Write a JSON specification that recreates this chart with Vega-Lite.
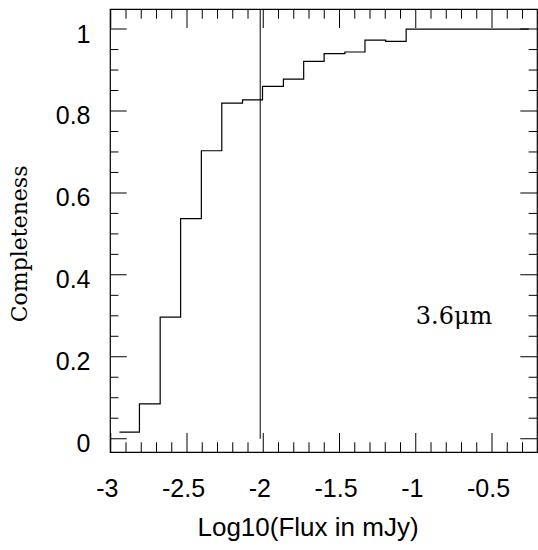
{
  "$schema": "https://vega.github.io/schema/vega-lite/v6.json",
  "width": 427,
  "height": 443,
  "autosize": "none",
  "padding": {"left": 110, "top": 9, "right": 1, "bottom": 98},
  "background": "white",
  "config": {
    "view": {"stroke": "black", "strokeWidth": 1.2},
    "axis": {"domain": false, "grid": false, "ticks": false, "labelColor": "black", "titleColor": "black", "labelFlush": false, "labelOverlap": false, "labelBound": false}
  },
  "datasets": {
    "hist": [
      {"logflux": -2.943, "completeness": 0.016},
      {"logflux": -2.812, "completeness": 0.085},
      {"logflux": -2.676, "completeness": 0.297},
      {"logflux": -2.542, "completeness": 0.537},
      {"logflux": -2.406, "completeness": 0.703},
      {"logflux": -2.272, "completeness": 0.819},
      {"logflux": -2.136, "completeness": 0.827},
      {"logflux": -2.005, "completeness": 0.86},
      {"logflux": -1.868, "completeness": 0.878},
      {"logflux": -1.735, "completeness": 0.921},
      {"logflux": -1.601, "completeness": 0.94},
      {"logflux": -1.465, "completeness": 0.944},
      {"logflux": -1.333, "completeness": 0.973},
      {"logflux": -1.197, "completeness": 0.97},
      {"logflux": -1.063, "completeness": 1.0},
      {"logflux": -0.929, "completeness": 1.0},
      {"logflux": -0.795, "completeness": 1.0},
      {"logflux": -0.661, "completeness": 1.0},
      {"logflux": -0.527, "completeness": 1.0},
      {"logflux": -0.393, "completeness": 1.0},
      {"logflux": -0.259, "completeness": 1.0}
    ],
    "vline": [{"logflux": -2.02, "completeness": 0, "top": 1.049}],
    "label": [{"logflux": -1.0, "completeness": 0.28, "text": "3.6μm"}],
    "xticks": [
      {"logflux": -3, "y_start": -0.0325, "y_end": 0.0139}, {"logflux": -3, "y_start": 1.049, "y_end": 1.0026},
      {"logflux": -2.9, "y_start": -0.0325, "y_end": -0.0088}, {"logflux": -2.9, "y_start": 1.049, "y_end": 1.0253},
      {"logflux": -2.8, "y_start": -0.0325, "y_end": -0.0088}, {"logflux": -2.8, "y_start": 1.049, "y_end": 1.0253},
      {"logflux": -2.7, "y_start": -0.0325, "y_end": -0.0088}, {"logflux": -2.7, "y_start": 1.049, "y_end": 1.0253},
      {"logflux": -2.6, "y_start": -0.0325, "y_end": -0.0088}, {"logflux": -2.6, "y_start": 1.049, "y_end": 1.0253},
      {"logflux": -2.5, "y_start": -0.0325, "y_end": 0.0139}, {"logflux": -2.5, "y_start": 1.049, "y_end": 1.0026},
      {"logflux": -2.4, "y_start": -0.0325, "y_end": -0.0088}, {"logflux": -2.4, "y_start": 1.049, "y_end": 1.0253},
      {"logflux": -2.3, "y_start": -0.0325, "y_end": -0.0088}, {"logflux": -2.3, "y_start": 1.049, "y_end": 1.0253},
      {"logflux": -2.2, "y_start": -0.0325, "y_end": -0.0088}, {"logflux": -2.2, "y_start": 1.049, "y_end": 1.0253},
      {"logflux": -2.1, "y_start": -0.0325, "y_end": -0.0088}, {"logflux": -2.1, "y_start": 1.049, "y_end": 1.0253},
      {"logflux": -2, "y_start": -0.0325, "y_end": 0.0139}, {"logflux": -2, "y_start": 1.049, "y_end": 1.0026},
      {"logflux": -1.9, "y_start": -0.0325, "y_end": -0.0088}, {"logflux": -1.9, "y_start": 1.049, "y_end": 1.0253},
      {"logflux": -1.8, "y_start": -0.0325, "y_end": -0.0088}, {"logflux": -1.8, "y_start": 1.049, "y_end": 1.0253},
      {"logflux": -1.7, "y_start": -0.0325, "y_end": -0.0088}, {"logflux": -1.7, "y_start": 1.049, "y_end": 1.0253},
      {"logflux": -1.6, "y_start": -0.0325, "y_end": -0.0088}, {"logflux": -1.6, "y_start": 1.049, "y_end": 1.0253},
      {"logflux": -1.5, "y_start": -0.0325, "y_end": 0.0139}, {"logflux": -1.5, "y_start": 1.049, "y_end": 1.0026},
      {"logflux": -1.4, "y_start": -0.0325, "y_end": -0.0088}, {"logflux": -1.4, "y_start": 1.049, "y_end": 1.0253},
      {"logflux": -1.3, "y_start": -0.0325, "y_end": -0.0088}, {"logflux": -1.3, "y_start": 1.049, "y_end": 1.0253},
      {"logflux": -1.2, "y_start": -0.0325, "y_end": -0.0088}, {"logflux": -1.2, "y_start": 1.049, "y_end": 1.0253},
      {"logflux": -1.1, "y_start": -0.0325, "y_end": -0.0088}, {"logflux": -1.1, "y_start": 1.049, "y_end": 1.0253},
      {"logflux": -1, "y_start": -0.0325, "y_end": 0.0139}, {"logflux": -1, "y_start": 1.049, "y_end": 1.0026},
      {"logflux": -0.9, "y_start": -0.0325, "y_end": -0.0088}, {"logflux": -0.9, "y_start": 1.049, "y_end": 1.0253},
      {"logflux": -0.8, "y_start": -0.0325, "y_end": -0.0088}, {"logflux": -0.8, "y_start": 1.049, "y_end": 1.0253},
      {"logflux": -0.7, "y_start": -0.0325, "y_end": -0.0088}, {"logflux": -0.7, "y_start": 1.049, "y_end": 1.0253},
      {"logflux": -0.6, "y_start": -0.0325, "y_end": -0.0088}, {"logflux": -0.6, "y_start": 1.049, "y_end": 1.0253},
      {"logflux": -0.5, "y_start": -0.0325, "y_end": 0.0139}, {"logflux": -0.5, "y_start": 1.049, "y_end": 1.0026},
      {"logflux": -0.4, "y_start": -0.0325, "y_end": -0.0088}, {"logflux": -0.4, "y_start": 1.049, "y_end": 1.0253},
      {"logflux": -0.3, "y_start": -0.0325, "y_end": -0.0088}, {"logflux": -0.3, "y_start": 1.049, "y_end": 1.0253}
    ],
    "yticks": [
      {"completeness": 0, "kind": "major"}, {"completeness": 0.05, "kind": "minor"}, {"completeness": 0.1, "kind": "minor"}, {"completeness": 0.15, "kind": "minor"},
      {"completeness": 0.2, "kind": "major"}, {"completeness": 0.25, "kind": "minor"}, {"completeness": 0.3, "kind": "minor"}, {"completeness": 0.35, "kind": "minor"},
      {"completeness": 0.4, "kind": "major"}, {"completeness": 0.45, "kind": "minor"}, {"completeness": 0.5, "kind": "minor"}, {"completeness": 0.55, "kind": "minor"},
      {"completeness": 0.6, "kind": "major"}, {"completeness": 0.65, "kind": "minor"}, {"completeness": 0.7, "kind": "minor"}, {"completeness": 0.75, "kind": "minor"},
      {"completeness": 0.8, "kind": "major"}, {"completeness": 0.85, "kind": "minor"}, {"completeness": 0.9, "kind": "minor"}, {"completeness": 0.95, "kind": "minor"},
      {"completeness": 1, "kind": "major"}
    ]
  },
  "layer": [
    {
      "data": {"name": "hist"},
      "mark": {"type": "line", "interpolate": "step-after", "color": "black", "strokeWidth": 1.2},
      "encoding": {
        "x": {
          "field": "logflux", "type": "quantitative",
          "scale": {"domain": [-3.005, -0.205], "nice": false, "zero": false},
          "axis": {
            "orient": "bottom", "grid": false, "ticks": false, "labelOverlap": false, "labelFlush": false,
            "values": [-3, -2.5, -2, -1.5, -1, -0.5],
            "labelPadding": 24, "labelOffset": -4, "labelFont": "Liberation Sans", "labelFontSize": 25,
            "labelExpr": "'' + datum.value",
            "title": "Log10(Flux in mJy)", "titleFont": "Liberation Sans", "titleFontSize": 26, "titleFontWeight": "normal",
            "titleX": 197.5, "titleY": 83.4, "titleAlign": "center", "titleBaseline": "alphabetic"
          }
        },
        "y": {
          "field": "completeness", "type": "quantitative",
          "scale": {"domain": [-0.0325, 1.049], "nice": false, "zero": false},
          "axis": {
            "orient": "left", "grid": false, "ticks": false, "labelOverlap": false, "labelFlush": false,
            "values": [0, 0.2, 0.4, 0.6, 0.8, 1],
            "labelPadding": 20, "labelOffset": 5, "labelFont": "Liberation Sans", "labelFontSize": 25,
            "labelExpr": "'' + datum.value",
            "title": "Completeness", "titleFont": "DejaVu Serif", "titleFontSize": 22, "titleFontWeight": "normal",
            "titleAngle": 270, "titleX": -83.3, "titleY": 234.4, "titleAlign": "center", "titleBaseline": "alphabetic"
          }
        }
      }
    },
    {
      "data": {"name": "vline"},
      "mark": {"type": "rule", "color": "black", "strokeWidth": 1},
      "encoding": {
        "x": {"field": "logflux", "type": "quantitative"},
        "y": {"field": "completeness", "type": "quantitative"},
        "y2": {"field": "top"}
      }
    },
    {
      "data": {"name": "label"},
      "mark": {"type": "text", "align": "left", "baseline": "alphabetic", "font": "DejaVu Serif", "fontSize": 24, "color": "black"},
      "encoding": {
        "x": {"field": "logflux", "type": "quantitative"},
        "y": {"field": "completeness", "type": "quantitative"},
        "text": {"field": "text"}
      }
    },
    {
      "data": {"name": "xticks"},
      "mark": {"type": "rule", "color": "black", "strokeWidth": 1},
      "encoding": {
        "x": {"field": "logflux", "type": "quantitative"},
        "y": {"field": "y_start", "type": "quantitative"},
        "y2": {"field": "y_end"}
      }
    },
    {
      "data": {"name": "yticks"},
      "mark": {"type": "tick", "orient": "horizontal", "thickness": 1, "color": "black", "opacity": 1, "clip": true},
      "encoding": {
        "y": {"field": "completeness", "type": "quantitative"},
        "x": {"datum": -3.005, "type": "quantitative"},
        "size": {"field": "kind", "type": "nominal", "scale": {"domain": ["major", "minor"], "range": [33.4, 16.8]}, "legend": null}
      }
    },
    {
      "data": {"name": "yticks"},
      "mark": {"type": "tick", "orient": "horizontal", "thickness": 1, "color": "black", "opacity": 1, "clip": true},
      "encoding": {
        "y": {"field": "completeness", "type": "quantitative"},
        "x": {"datum": -0.205, "type": "quantitative"},
        "size": {"field": "kind", "type": "nominal", "scale": {"domain": ["major", "minor"], "range": [33.4, 16.8]}, "legend": null}
      }
    }
  ]
}
